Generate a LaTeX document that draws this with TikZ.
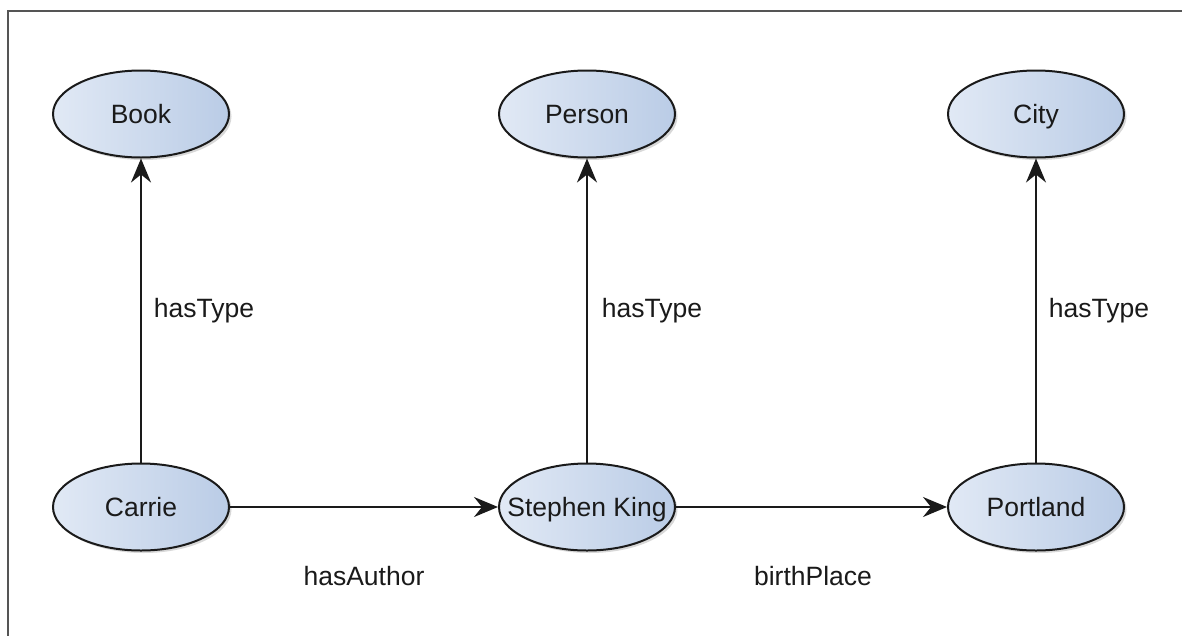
\documentclass[tikz,border=0pt]{standalone}
\usepackage{fontspec}
\setmainfont{Liberation Sans}
\usetikzlibrary{arrows.meta,shadows,shapes.geometric}
\definecolor{nodeL}{HTML}{E1E9F5}
\definecolor{nodeR}{HTML}{BACCE6}
\definecolor{inkc}{HTML}{1A1A1A}
\definecolor{framec}{HTML}{555555}
% node text takes no width, so every ellipse keeps the same size
\newcommand\nodetext[1]{\makebox[0pt][c]{#1}}
\tikzset{
  concept/.style={ellipse, draw=inkc, line width=2pt,
    minimum width=176pt, minimum height=87pt, inner sep=0pt,
    text height=21pt, text depth=2pt,
    left color=nodeL, right color=nodeR,
    drop shadow={shadow xshift=2.5pt, shadow yshift=-2.5pt, opacity=0.25, fill=black!60},
    text=inkc, font=\fontsize{26.5}{31}\selectfont},
  rel/.style={draw=inkc, line width=2pt,
    -{Stealth[length=24pt,width=20pt,inset=8pt]}},
  lbl/.style={text=inkc, font=\fontsize{26.5}{31}\selectfont, inner sep=0pt}
}
\begin{document}
\begin{tikzpicture}[x=1pt,y=-1pt]
  \useasboundingbox (0,0) rectangle (1182,635);
  \fill[white] (0,0) rectangle (1182,635);
  % outer frame
  \draw[framec, line width=2pt] (8,640) -- (8,11) -- (1190,11);

  % classes
  \node[concept] (book)   at (141,114)  {\nodetext{Book}};
  \node[concept] (person) at (587,114)  {\nodetext{Person}};
  \node[concept] (city)   at (1036,114) {\nodetext{City}};
  % instances
  \node[concept] (carrie)   at (141,507)  {\nodetext{Carrie}};
  \node[concept] (king)     at (587,507)  {\nodetext{Stephen King}};
  \node[concept] (portland) at (1036,507) {\nodetext{Portland}};

  % relations
  \draw[rel] (carrie)   -- (book);
  \draw[rel] (king)     -- (person);
  \draw[rel] (portland) -- (city);
  \draw[rel] (carrie)   -- (king);
  \draw[rel] (king)     -- (portland);

  % relation labels
  \node[lbl] (t1) at (204,311)  {hasType};
  \node[lbl] (t2) at (652,311)  {hasType};
  \node[lbl] (t3) at (1099,311) {hasType};
  \node[lbl] (a1) at (364,576)  {hasAuthor};
  \node[lbl] (b1) at (813,576)  {birthPlace};
\end{tikzpicture}
\end{document}
